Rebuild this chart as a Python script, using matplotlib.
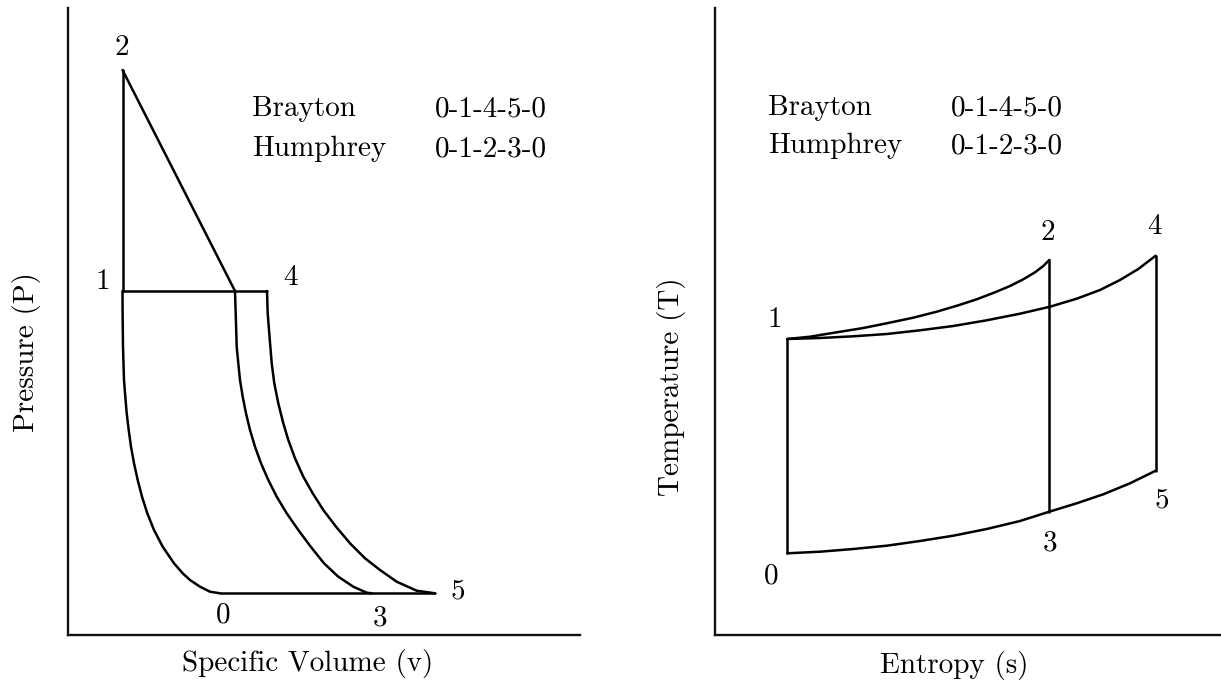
import matplotlib
matplotlib.use("Agg")
import matplotlib.pyplot as plt

plt.rcParams['font.family'] = 'serif'
plt.rcParams['font.serif'] = ['cmr10']
plt.rcParams['axes.unicode_minus'] = False

# ---------------- P-v diagram data (arbitrary units) ----------------
v1, P1 = 54.5, 344
v2, P2 = 54.5, 565
v4, P4 = 199, 344
# compression 0 -> 1
comp_v = [152, 142, 132, 122, 114.7, 106, 94.7, 86, 79.3, 74, 69.7, 66, 63,
          60.7, 58.7, 57.3, 56, 55, 54.6, 54.5]
comp_P = [41.7, 43.3, 48.3, 55, 61.7, 71.7, 88.3, 105, 121.7, 138.3, 155,
          171.7, 188.3, 205, 221.7, 238.3, 255, 288.3, 321.7, 344]
# Humphrey expansion 2 -> 3
exp23_v = [54.5, 167, 167.7, 168.7, 170.3, 172, 174.7, 178, 182, 187, 193,
           200.3, 208.7, 218.7, 230.3, 242.7, 256, 270.3, 285.3, 298.7, 303.7]
exp23_P = [565, 344, 321.7, 288.3, 271.7, 255, 238.3, 221.7, 205, 188.3,
           171.7, 155, 138.3, 121.7, 105, 88.3, 71.7, 58.3, 48.3, 42.3, 41.7]
# Brayton expansion 4 -> 5
exp45_v = [199, 199.7, 201, 203.7, 206.3, 210.3, 215.3, 220.3, 227, 235.3,
           244.7, 255.3, 268, 282, 297, 312, 328.7, 348.7, 367]
exp45_P = [344, 321.7, 305, 271.7, 251.7, 231.7, 211.7, 195, 176.7, 158.3,
           141.7, 125, 108.3, 91.7, 76.7, 65, 53.3, 44.3, 41.7]
# heat rejection line 0 -> 5
rej_v = [152, 367]
rej_P = [41.7, 41.7]

# ---------------- T-s diagram data (arbitrary units) ----------------
s01 = [72.3, 72.3]
T01 = [81.7, 296]
# 1 -> 2 (constant volume heat addition)
s12 = [72.3, 95, 121.7, 148.3, 171.7, 198.3, 221.7, 243.3, 261.7, 280, 295,
       308.3, 320, 328.3, 334.3]
T12 = [296, 298.3, 302.7, 307, 311.7, 317.3, 323.3, 329.7, 335.7, 342.7, 349,
       355.7, 362.7, 369, 375]
# 1 -> 4 (constant pressure heat addition)
s14 = [72.3, 105, 138.3, 171.7, 205, 238.3, 271.7, 305, 335, 361.7, 385, 405,
       423.3, 440.7]
T14 = [296, 297, 298.7, 301, 304.7, 309, 314.7, 321.3, 328.3, 336.3, 345, 355,
       366, 379.3]
# 2 -> 3 and 4 -> 5 (isentropic expansion)
s23 = [334.3, 334.3]
T23 = [375, 123.3]
s45 = [440.7, 440.7]
T45 = [379.3, 164.3]
# 0 -> 3 -> 5 (heat rejection)
s035 = [72.3, 105, 138.3, 171.7, 205, 238.3, 271.7, 305, 334.3, 361.7, 388.3,
        415, 440.7]
T035 = [81.7, 83.3, 86, 89.3, 94, 99.3, 106, 114, 123.3, 131.7, 140.7, 151.7,
        164.3]

cycle_names = ["Brayton", "Humphrey"]
cycle_paths = ["0-1-4-5-0", "0-1-2-3-0"]

W, H = 1221, 690
fig = plt.figure(figsize=(W / 100, H / 100), dpi=100)

axL = fig.add_axes([68 / W, 55 / H, 512 / W, 627 / H])
axR = fig.add_axes([715 / W, 55 / H, 506 / W, 627 / H])

lw = 1.8
fs = 21
for ax, xmax in ((axL, 512), (axR, 506)):
    ax.set_xlim(0, xmax)
    ax.set_ylim(0, 627)
    ax.set_xticks([])
    ax.set_yticks([])
    for sp in ('top', 'right'):
        ax.spines[sp].set_visible(False)
    for sp in ('left', 'bottom'):
        ax.spines[sp].set_linewidth(1.7)
        ax.spines[sp].set_color('#111111')

kw = dict(color='black', lw=lw, solid_joinstyle='round', solid_capstyle='round')

# P-v
axL.plot(comp_v, comp_P, **kw)
axL.plot([v1, v2], [P1, P2], **kw)
axL.plot([v1, v4], [P1, P4], **kw)
axL.plot(exp23_v, exp23_P, **kw)
axL.plot(exp45_v, exp45_P, **kw)
axL.plot(rej_v, rej_P, **kw)

tk = dict(fontsize=fs, ha='center', va='center')
axL.text(54, 587, "2", **tk)
axL.text(35, 353, "1", **tk)
axL.text(222, 357, "4", **tk)
axL.text(390, 44, "5", **tk)
axL.text(155, 20, "0", **tk)
axL.text(312, 17, "3", **tk)
for i, (nm, pth) in enumerate(zip(cycle_names, cycle_paths)):
    y = 526 - 40 * i
    axL.text(184, y, nm, fontsize=fs, ha='left', va='center')
    axL.text(367, y, pth, fontsize=fs, ha='left', va='center')

# T-s
axR.plot(s01, T01, **kw)
axR.plot(s12, T12, **kw)
axR.plot(s14, T14, **kw)
axR.plot(s23, T23, **kw)
axR.plot(s45, T45, **kw)
axR.plot(s035, T035, **kw)

axR.text(333, 402, "2", **tk)
axR.text(439, 408, "4", **tk)
axR.text(60, 315, "1", **tk)
axR.text(56, 59, "0", **tk)
axR.text(335, 92, "3", **tk)
axR.text(447, 135, "5", **tk)
for i, (nm, pth) in enumerate(zip(cycle_names, cycle_paths)):
    y = 527 - 38 * i
    axR.text(53, y, nm, fontsize=fs, ha='left', va='center')
    axR.text(236, y, pth, fontsize=fs, ha='left', va='center')

# axis labels
fig.text(308 / W, 1 - 663 / H, "Specific Volume (v)", fontsize=fs, ha='center', va='center')
fig.text(954 / W, 1 - 665 / H, "Entropy (s)", fontsize=fs, ha='center', va='center')
fig.text(27 / W, 1 - 352 / H, "Pressure (P)", fontsize=fs, ha='center', va='center', rotation=90)
fig.text(672 / W, 1 - 387 / H, "Temperature (T)", fontsize=fs, ha='center', va='center', rotation=90)

fig.savefig("out.png", dpi=100)
